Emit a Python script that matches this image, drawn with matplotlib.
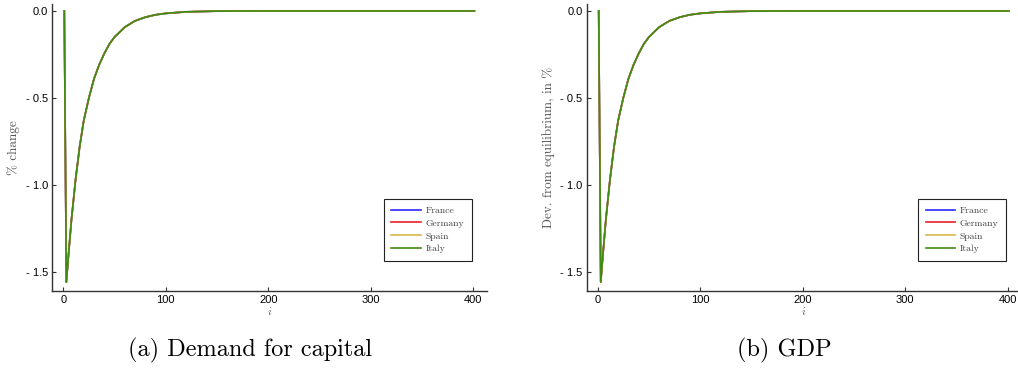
import matplotlib
matplotlib.use("Agg")
import matplotlib.pyplot as plt
import numpy as np

plt.rcParams["mathtext.fontset"] = "cm"

# periods and response (% deviation)
periods = [1, 3, 5, 8, 12, 16, 20, 25, 30, 35, 40, 45, 50, 60, 70, 80, 90, 100, 120, 150, 200, 300, 401]
response = [0.0, -1.56, -1.41, -1.20, -0.97, -0.78, -0.63, -0.50, -0.39, -0.31, -0.245, -0.19,
            -0.15, -0.093, -0.057, -0.036, -0.022, -0.014, -0.005, -0.001, 0.0, 0.0, 0.0]

countries = ["France", "Germany", "Spain", "Italy"]
colors = ["#2a2aff", "#e8202a", "#d8b84c", "#3f8a12"]

panels = ["(a) Demand for capital", "(b) GDP"]
ylabels = ["% change", "Dev. from equilibrium, in %"]
yticks = [0.0, -0.5, -1.0, -1.5]
yticklabels = ["0.0", "- 0.5", "- 1.0", "- 1.5"]
xticks = [0, 100, 200, 300, 400]

W, H = 1018, 368
fig = plt.figure(figsize=(W / 100, H / 100), dpi=100)

lefts = [52.3, 586.7]
for k in range(2):
    ax = fig.add_axes([lefts[k] / W, 1 - 291 / H, 434.4 / W, 287 / H])
    for c, col in zip(countries, colors):
        ax.plot(periods, response, color=col, lw=1.2, label=c)
    ax.set_xlim(-10.7, 413)
    ax.set_ylim(-1.611, 0.04)
    ax.spines["top"].set_visible(False)
    ax.spines["right"].set_visible(False)
    for s in ["left", "bottom"]:
        ax.spines[s].set_linewidth(1.0)
        ax.spines[s].set_color("#333333")
    ax.set_xticks(xticks)
    ax.set_xticklabels([str(t) for t in xticks], fontfamily="Liberation Sans", fontsize=8)
    ax.set_yticks(yticks)
    ax.set_yticklabels(yticklabels, fontfamily="Liberation Sans", fontsize=8)
    ax.tick_params(direction="in", length=3, width=0.8, color="#333333", pad=3)
    ax.set_ylabel(ylabels[k], fontfamily="cmr10", fontsize=9.5, color="#555555")
    ax.set_xlabel(r"$i$", fontsize=8, color="#555555", labelpad=0)
    leg = ax.legend(loc="lower right", bbox_to_anchor=(0.966, 0.1045), prop={"family": "cmr10", "size": 7},
                    frameon=True, fancybox=False, edgecolor="#222222", framealpha=1,
                    handlelength=3.0, handletextpad=0.5, borderpad=0.8, labelspacing=0.4,
                    borderaxespad=0)
    leg.get_frame().set_linewidth(0.8)
    for t in leg.get_texts():
        t.set_color("#444444")
    fig.text((lefts[k] + 198) / W, 1 - 350 / H, panels[k], ha="center", va="center",
             fontfamily="cmr10", fontsize=17.5)

fig.savefig("out.png", dpi=100)
